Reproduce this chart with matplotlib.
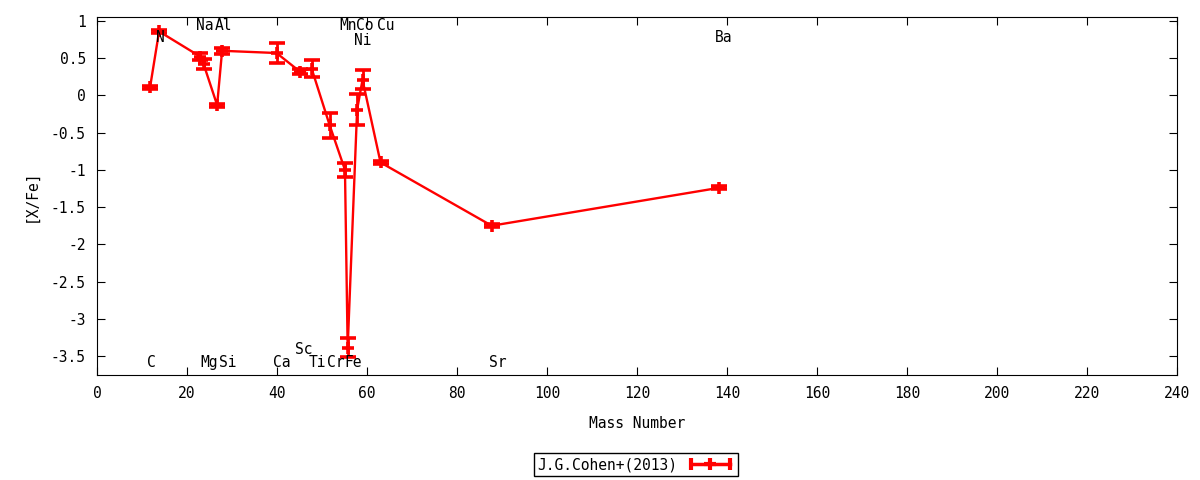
import matplotlib
matplotlib.use('Agg')
import matplotlib.pyplot as plt
from matplotlib.lines import Line2D
from matplotlib.legend_handler import HandlerLine2D, HandlerTuple

plt.rcParams['font.family'] = ['DejaVu Sans Mono']

# [X/Fe] vs mass number, J.G.Cohen+(2013)
mass = [11.8, 13.8, 23.0, 23.7, 26.7, 27.8, 39.9, 45.1, 47.7, 51.7,
        55.1, 55.7, 57.8, 59.0, 63.0, 87.7, 138.3]
xfe = [0.11, 0.86, 0.52, 0.42, -0.13, 0.60, 0.57, 0.32, 0.36, -0.40,
       -1.00, -3.39, -0.19, 0.21, -0.90, -1.75, -1.24]
err = [0.02, 0.02, 0.05, 0.07, 0.02, 0.04, 0.13, 0.03, 0.11, 0.17,
       0.09, 0.13, 0.21, 0.13, 0.02, 0.02, 0.02]

# element labels
lab_text = ['C', 'N', 'Na', 'Mg', 'Al', 'Si', 'Ca', 'Sc', 'Ti', 'Cr',
            'Mn', 'Fe', 'Co', 'Ni', 'Cu', 'Sr', 'Ba']
lab_x = [12.0, 14.0, 23.9, 25.0, 28.0, 29.1, 41.1, 45.9, 49.0, 53.0,
         55.7, 57.0, 59.6, 59.1, 64.2, 89.0, 139.2]
lab_y = [-3.59, 0.775, 0.935, -3.59, 0.935, -3.59, -3.59, -3.41, -3.59, -3.59,
         0.935, -3.59, 0.935, 0.74, 0.935, -3.59, 0.775]

xticks = list(range(0, 241, 20))
yticks = [1, 0.5, 0, -0.5, -1, -1.5, -2, -2.5, -3, -3.5]

fig = plt.figure(figsize=(12, 4.8), dpi=100)
ax = fig.add_axes([0.0808, 0.2188, 0.9002, 0.7458])

ax.errorbar(mass, xfe, yerr=err, color='red', lw=1.7, elinewidth=2,
            capsize=5.5, capthick=2.2, marker='+', ms=9, mew=2.6)

for t, x, y in zip(lab_text, lab_x, lab_y):
    ax.text(x, y, t, ha='center', va='center', fontsize=10.5)

ax.set_xlim(0, 240)
ax.set_ylim(-3.755, 1.054)
ax.set_xticks(xticks)
ax.set_yticks(yticks)
ax.set_yticklabels([('%g' % v) for v in yticks])
ax.tick_params(direction='in', length=6, top=True, right=True, labelsize=10.5, pad=8)
ax.set_xlabel('Mass Number', fontsize=10.5, labelpad=11)
ax.set_ylabel('[X/Fe]', fontsize=10.5, labelpad=9)

h_caps = Line2D([], [], color='red', lw=2.5, marker='|', ms=9, mew=3)
h_mid = Line2D([], [], color='red', ls='none', marker='+', ms=9, mew=3)
fig.legend([(h_caps, h_mid)], ['J.G.Cohen+(2013)'],
           handler_map={h_caps: HandlerLine2D(numpoints=2),
                        h_mid: HandlerLine2D(numpoints=1),
                        tuple: HandlerTuple(ndivide=1)},
           loc='center', bbox_to_anchor=(0.53, 0.032), markerfirst=False,
           fancybox=False, edgecolor='black', framealpha=1, fontsize=10.5,
           borderpad=0.25, handlelength=3.3, borderaxespad=0, handletextpad=0.6)

fig.savefig('out.png', dpi=100)
